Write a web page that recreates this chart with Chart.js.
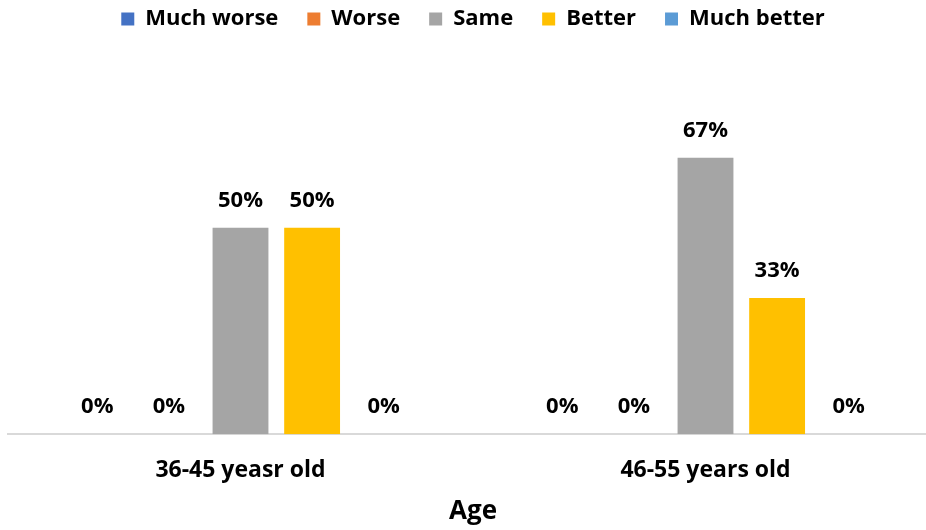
<!DOCTYPE html>
<html>
<head>
<meta charset="utf-8">
<script src="https://cdn.jsdelivr.net/npm/chart.js@4/dist/chart.umd.min.js"></script>
<style>
    html, body { margin: 0; padding: 0; background: #fff; overflow: hidden; }
    #wrap { position: relative; width: 940px; height: 551px; margin-top: -21px; }
</style>
</head>
<body>
<div id="wrap"><canvas id="chart"></canvas></div>
<script>
// Grupos de edad y respuestas (%)
const grupos = ['36-45 yeasr old', '46-55 years old'];
const muchWorse = [0, 0];
const worse = [0, 0];
const same = [50, 67];
const better = [50, 33];
const muchBetter = [0, 0];

const series = [
    { label: 'Much worse', data: muchWorse, color: '#4472C4' },
    { label: 'Worse', data: worse, color: '#ED7D31' },
    { label: 'Same', data: same, color: '#A5A5A5' },
    { label: 'Better', data: better, color: '#FFC000' },
    { label: 'Much better', data: muchBetter, color: '#5B9BD5' }
];

const FUENTE = "'Open Sans', Lato, sans-serif";

// Espacio extra bajo la leyenda
const espacioLeyenda = {
    id: 'espacioLeyenda',
    beforeInit(chart) {
        const fitOriginal = chart.legend.fit;
        chart.legend.fit = function () {
            fitOriginal.bind(chart.legend)();
            this.height += 64;
        };
    }
};

// Etiquetas de porcentaje encima de cada barra
const etiquetasBarras = {
    id: 'etiquetasBarras',
    afterDatasetsDraw(chart) {
        const ctx = chart.ctx;
        ctx.save();
        ctx.font = 'bold 22px ' + FUENTE;
        ctx.fillStyle = '#000';
        ctx.textAlign = 'center';
        ctx.textBaseline = 'middle';
        chart.data.datasets.forEach((ds, i) => {
            const meta = chart.getDatasetMeta(i);
            meta.data.forEach((bar, j) => {
                ctx.fillText(ds.data[j] + '%', bar.x, bar.y - 27);
            });
        });
        ctx.restore();
    }
};

new Chart(document.getElementById('chart'), {
    type: 'bar',
    data: {
        labels: grupos,
        datasets: series.map(s => ({
            label: s.label,
            data: s.data,
            backgroundColor: s.color,
            borderWidth: 0,
            barPercentage: 0.78,
            categoryPercentage: 0.77
        }))
    },
    options: {
        responsive: true,
        maintainAspectRatio: false,
        animation: false,
        layout: { padding: { top: 0, left: 8, right: 2, bottom: 3 } },
        plugins: {
            legend: {
                position: 'top',
                labels: {
                    boxWidth: 13,
                    boxHeight: 13,
                    padding: 29,
                    color: '#000',
                    font: { family: FUENTE, size: 22, weight: 'bold' }
                }
            },
            tooltip: { enabled: false }
        },
        scales: {
            y: {
                display: false,
                min: 0,
                max: 80
            },
            x: {
                grid: { display: false, drawTicks: false },
                border: { color: '#d9d9d9', width: 2 },
                ticks: {
                    color: '#000',
                    padding: 22,
                    font: { family: FUENTE, size: 23, weight: 'bold' }
                },
                title: {
                    display: true,
                    text: 'Age',
                    color: '#000',
                    padding: { top: -10, bottom: 0 },
                    font: { family: FUENTE, size: 26, weight: 'bold' }
                }
            }
        }
    },
    plugins: [espacioLeyenda, etiquetasBarras]
});
</script>
</body>
</html>
